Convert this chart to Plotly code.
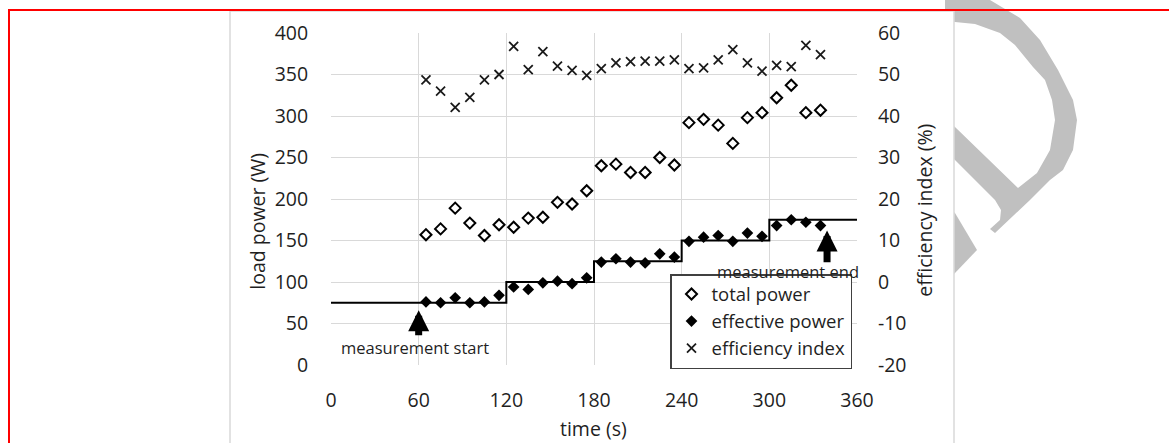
import plotly.graph_objects as go

# ---------------- data ----------------
times = [65, 75, 85, 95, 105, 115, 125, 135, 145, 155, 165, 175, 185, 195,
         205, 215, 225, 235, 245, 255, 265, 275, 285, 295, 305, 315, 325, 335]

total_power = [157, 164, 189, 171, 156, 169, 166, 177, 178, 196, 194, 210,
               240, 242, 232, 232, 250, 241, 292, 296, 289, 267, 298, 304,
               322, 337, 304, 307]

effective_power = [76, 75, 81, 75, 76, 84, 94, 91, 99, 101, 98, 105,
                   124, 128, 124, 123, 134, 130, 149, 154, 156, 149, 159, 155,
                   168, 175, 172, 168]

efficiency_index = [48.7, 46.0, 42.1, 44.5, 48.7, 50.0, 56.8, 51.2, 55.5, 52.0,
                    51.0, 49.8, 51.4, 52.8, 53.1, 53.2, 53.2, 53.5, 51.4, 51.6,
                    53.5, 56.0, 52.8, 50.8, 52.2, 51.9, 57.0, 54.8]

step_times = [0, 120, 180, 240, 300, 360]
step_levels = [75, 100, 125, 150, 175, 175]

x_ticks = [0, 60, 120, 180, 240, 300, 360]
y_ticks = [0, 50, 100, 150, 200, 250, 300, 350, 400]
y2_ticks = [-20, -10, 0, 10, 20, 30, 40, 50, 60]
y2_labels = ["-20", "-10", "0", "10", "20", "30", "40", "50", "60"]

# ---------------- geometry ----------------
W, H = 1169, 443
PL, PR, PT, PB = 331, 857, 33, 365  # plot area in pixels
FONT = "Open Sans"
TXT = "#1f1f1f"
FS = 19.5


def px(x):
    return (x - PL) / (PR - PL)


def py(y):
    return (PB - y) / (PB - PT)


def path(points):
    return "M " + " L ".join(f"{px(x):.5f},{py(y):.5f}" for x, y in points) + " Z"


fig = go.Figure()

fig.add_trace(go.Scatter(
    x=step_times, y=step_levels, mode="lines", line=dict(color="black", width=2, shape="hv"),
    showlegend=False, hoverinfo="skip"))

fig.add_trace(go.Scatter(
    x=times, y=total_power, mode="markers", name="total power",
    marker=dict(symbol="diamond-open", size=8.5, color="black", line=dict(width=2, color="black"))))

fig.add_trace(go.Scatter(
    x=times, y=effective_power, mode="markers", name="effective power",
    marker=dict(symbol="diamond", size=9, color="black", line=dict(width=0))))

fig.add_trace(go.Scatter(
    x=times, y=efficiency_index, mode="markers", name="efficiency index", yaxis="y2",
    marker=dict(symbol="x-thin-open", size=9, color="#1a1a1a", line=dict(width=1.8, color="#1a1a1a"))))

# ---------------- decoration shapes (paper coords) ----------------
gray = "#c0c0c0"
watermark1 = [(985, -5), (990, 0), (1020, 18), (1040, 40), (1058, 70), (1073, 100), (1077, 120),
              (1073, 150), (1063, 170), (1050, 180), (1030, 200), (995, 233), (990, 229),
              (1000, 220), (1001, 210), (995, 200), (955, 160), (945, 150), (945, 117),
              (955, 127), (1018, 188), (1037, 173), (1050, 150), (1055, 120), (1052, 100),
              (1045, 80), (1033, 67), (1015, 45), (1000, 33), (975, 24), (955, 22), (945, 20),
              (945, -5)]
watermark2 = [(945, 204), (955, 213), (977, 250), (955, 273), (945, 282)]

shapes = [
    dict(type="path", xref="paper", yref="paper", path=path(watermark1),
         fillcolor=gray, line=dict(width=0), layer="below"),
    dict(type="path", xref="paper", yref="paper", path=path(watermark2),
         fillcolor=gray, line=dict(width=0), layer="below"),
    # chart frame
    dict(type="rect", xref="paper", yref="paper", x0=px(230), x1=px(954), y0=py(11), y1=py(470),
         fillcolor="white", line=dict(color="#d9d9d9", width=1.5), layer="below"),
    # red page border
    dict(type="line", xref="paper", yref="paper", x0=px(9), x1=px(9), y0=py(10), y1=py(470),
         line=dict(color="#ff0000", width=2), layer="below"),
    dict(type="line", xref="paper", yref="paper", x0=px(8), x1=px(1180), y0=py(10), y1=py(10),
         line=dict(color="#ff0000", width=2), layer="below"),
]

annotations = [
    # axis titles
    dict(text="load power (W)", xref="paper", yref="paper", x=px(258), y=py(221.7),
         textangle=-90, showarrow=False, font=dict(size=FS, color=TXT, family=FONT),
         xanchor="center", yanchor="middle"),
    dict(text="efficiency index (%)", xref="paper", yref="paper", x=px(925), y=py(210.7),
         textangle=-90, showarrow=False, font=dict(size=FS, color=TXT, family=FONT),
         xanchor="center", yanchor="middle"),
    dict(text="time (s)", xref="paper", yref="paper", x=px(593.5), y=py(428),
         showarrow=False, font=dict(size=FS, color=TXT, family=FONT),
         xanchor="center", yanchor="middle"),
    # arrows
    dict(text="", x=60, y=66, xref="x", yref="y", ax=60, ay=34, axref="x", ayref="y",
         showarrow=True, arrowhead=2, arrowsize=0.6, arrowwidth=7, arrowcolor="black", standoff=0),
    dict(text="", x=339.5, y=162, xref="x", yref="y", ax=339.5, ay=122, axref="x", ayref="y",
         showarrow=True, arrowhead=2, arrowsize=0.6, arrowwidth=7, arrowcolor="black", standoff=0),
    dict(text="measurement start", xref="paper", yref="paper", x=px(415), y=py(347.7),
         showarrow=False, font=dict(size=16.5, color=TXT, family=FONT),
         xanchor="center", yanchor="middle"),
    dict(text="measurement end", xref="paper", yref="paper", x=px(788), y=py(271.7),
         showarrow=False, font=dict(size=16.5, color=TXT, family=FONT),
         xanchor="center", yanchor="middle"),
]

fig.update_layout(
    width=W, height=H, autosize=False,
    margin=dict(l=PL, r=W - PR, t=PT, b=H - PB, pad=0),
    paper_bgcolor="white", plot_bgcolor="rgba(0,0,0,0)",
    font=dict(family=FONT, size=FS, color=TXT),
    shapes=shapes, annotations=annotations,
    xaxis=dict(range=[0, 360], tickvals=x_ticks, showgrid=True, gridcolor="#d9d9d9", gridwidth=1,
               zeroline=False, showline=False, ticks="outside", ticklen=18, tickcolor="rgba(0,0,0,0)",
               tickfont=dict(size=FS, color=TXT, family=FONT), fixedrange=True),
    yaxis=dict(range=[0, 400], tickvals=y_ticks, showgrid=True, gridcolor="#d9d9d9", gridwidth=1,
               zeroline=False, showline=False, ticks="outside", ticklen=18, tickcolor="rgba(0,0,0,0)",
               tickfont=dict(size=FS, color=TXT, family=FONT)),
    yaxis2=dict(range=[-20, 60], tickvals=y2_ticks, ticktext=y2_labels, overlaying="y", side="right",
                showgrid=False, zeroline=False, showline=False, ticks="outside", ticklen=16,
                tickcolor="rgba(0,0,0,0)", tickfont=dict(size=FS, color=TXT, family=FONT)),
    legend=dict(x=px(852), y=py(369), xanchor="right", yanchor="bottom",
                bgcolor="white", bordercolor="#404040", borderwidth=1.5,
                font=dict(size=18.5, color=TXT, family=FONT), tracegroupgap=0,
                itemwidth=30),
)

fig.write_html("out.html")
